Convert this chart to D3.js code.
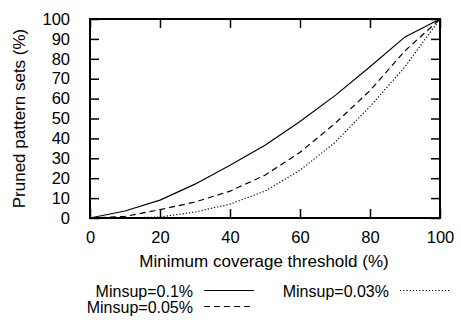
<!DOCTYPE html>
<html>
<head>
<meta charset="utf-8">
<script src="https://cdn.jsdelivr.net/npm/d3@7"></script>
<style>
  body { margin: 0; background: #fff; }
  svg text { font-family: "Liberation Sans", Arial, sans-serif; font-size: 17px; fill: #000; }
</style>
</head>
<body>
<svg width="461" height="320"></svg>
<script>
// data
var thresholds = [0, 10, 20, 30, 40, 50, 60, 70, 80, 90, 100];
var minsup01 = [0, 3.5, 9, 17, 26.5, 36.5, 48.5, 61.5, 76, 91, 100];
var minsup005 = [0, 0.8, 4.2, 8, 13.5, 21.5, 33, 47.5, 64, 84, 100];
var minsup003 = [0, 0, 0.5, 3, 7, 13.5, 24, 38, 56, 76, 100];
var seriesNames = ["Minsup=0.1%", "Minsup=0.05%", "Minsup=0.03%"];
var xTicks = [0, 20, 40, 60, 80, 100];
var yTicks = [0, 10, 20, 30, 40, 50, 60, 70, 80, 90, 100];

var mLeft = 90, mRight = 440, mTop = 19, mBottom = 218;
var svg = d3.select("svg");

var x = d3.scaleLinear().domain([0, 100]).range([mLeft, mRight]);
var y = d3.scaleLinear().domain([0, 100]).range([mBottom, mTop]);

// axes with inward ticks, mirrored on top and right
var g = svg.append("g");
g.append("g").attr("transform", "translate(0," + mBottom + ")")
  .call(d3.axisBottom(x).tickValues(xTicks).tickSizeInner(-9).tickSizeOuter(0).tickPadding(13));
g.append("g").attr("transform", "translate(0," + mTop + ")")
  .call(d3.axisTop(x).tickValues(xTicks).tickSizeInner(-9).tickSizeOuter(0).tickFormat(""));
g.append("g").attr("transform", "translate(" + mLeft + ",0)")
  .call(d3.axisLeft(y).tickValues(yTicks).tickSizeInner(-9).tickSizeOuter(0).tickPadding(20));
g.append("g").attr("transform", "translate(" + mRight + ",0)")
  .call(d3.axisRight(y).tickValues(yTicks).tickSizeInner(-9).tickSizeOuter(0).tickFormat(""));
g.selectAll(".domain").remove();
g.selectAll(".tick line").attr("stroke", "#000").attr("stroke-width", 1.5);
g.selectAll(".tick text").style("font-size", "16.5px").style("font-family", "Liberation Sans, Arial, sans-serif");

svg.append("rect")
  .attr("x", mLeft).attr("y", mTop)
  .attr("width", mRight - mLeft).attr("height", mBottom - mTop)
  .attr("fill", "none").attr("stroke", "#000").attr("stroke-width", 2);

var line = d3.line().x(function (d, i) { return x(thresholds[i]); }).y(function (d) { return y(d); });

var styles = ["none", "6,4", "1.2,2"];
var allSeries = [minsup01, minsup005, minsup003];
allSeries.forEach(function (s, i) {
  svg.append("path").datum(s)
    .attr("d", line)
    .attr("fill", "none")
    .attr("stroke", "#000")
    .attr("stroke-width", 1.2)
    .attr("stroke-dasharray", styles[i]);
});

// axis titles
svg.append("text")
  .attr("x", (mLeft + mRight) / 2 - 1).attr("y", 267)
  .attr("text-anchor", "middle")
  .text("Minimum coverage threshold (%)");
svg.append("text")
  .attr("transform", "translate(25," + ((mTop + mBottom) / 2) + ") rotate(-90)")
  .attr("text-anchor", "middle")
  .text("Pruned pattern sets (%)");

// legend
var legendPos = [[193, 290.5], [193, 306.5], [389, 290.5]];
seriesNames.forEach(function (name, i) {
  var p = legendPos[i];
  svg.append("text")
    .attr("x", p[0]).attr("y", p[1] + 6)
    .attr("text-anchor", "end")
    .style("font-size", "16px")
    .text(name);
  svg.append("line")
    .attr("x1", p[0] + 11).attr("x2", p[0] + 61)
    .attr("y1", p[1]).attr("y2", p[1])
    .attr("stroke", "#000")
    .attr("stroke-width", 1.2)
    .attr("stroke-dasharray", styles[i]);
});
</script>
</body>
</html>
